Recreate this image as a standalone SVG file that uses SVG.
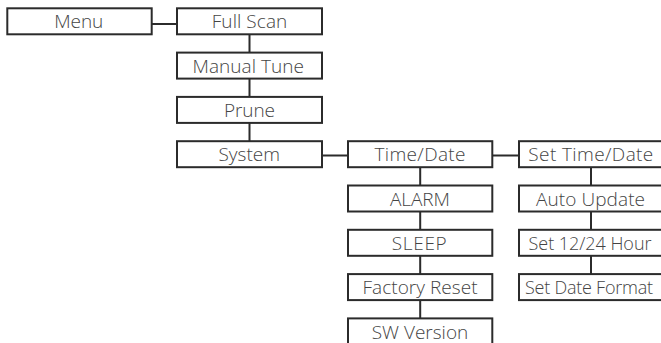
<svg xmlns="http://www.w3.org/2000/svg" width="661" height="343" viewBox="0 0 661 343">
<style>
.box{fill:#fff;stroke:#2b2b2b;stroke-width:2}
.lbl{font-family:"Open Sans",Lato,"Liberation Sans",sans-serif;font-weight:300;font-size:19px;fill:#444;text-anchor:middle}
.sm{font-size:18px}
.con{stroke:#2b2b2b;stroke-width:2;fill:none}
</style>
<rect width="661" height="343" fill="#fff"/>
<g id="connectors">
<path class="con" d="M151.7 24H177"/>
<path class="con" d="M249.5 34.3V52.6M249.5 78.6V96.9M249.5 122.9V141.2"/>
<path class="con" d="M322 155.5H348"/>
<path class="con" d="M492.3 155.5H519"/>
<path class="con" d="M420.2 167.2V185.5M420.2 211.5V229.8M420.2 255.8V274.1M420.2 300.1V318.4"/>
<path class="con" d="M591 167.2V185.5M591 211.5V229.8M591 255.8V274.1"/>
</g>
<g id="menu"><rect class="box" x="7.3" y="8.3" width="144.4" height="26"/><text class="lbl" x="78.8" y="28.4" textLength="49">Menu</text></g>
<g id="full-scan"><rect class="box" x="177" y="8.3" width="145" height="26"/><text class="lbl" x="249.5" y="28.4" textLength="75.5">Full Scan</text></g>
<g id="manual-tune"><rect class="box" x="177" y="52.6" width="145" height="26"/><text class="lbl" x="248.2" y="72.7" textLength="111.5">Manual Tune</text></g>
<g id="prune"><rect class="box" x="177" y="96.9" width="145" height="26"/><text class="lbl" x="249.5" y="117" textLength="51">Prune</text></g>
<g id="system"><rect class="box" x="177" y="141.2" width="145" height="26"/><text class="lbl" x="249.2" y="161.3" textLength="61.5">System</text></g>
<g id="time-date"><rect class="box" x="348" y="141.2" width="144.3" height="26"/><text class="lbl" x="420" y="161.3" textLength="91">Time/Date</text></g>
<g id="alarm"><rect class="box" x="348" y="185.5" width="144.3" height="26"/><text class="lbl" x="420" y="205.6" textLength="60">ALARM</text></g>
<g id="sleep"><rect class="box" x="348" y="229.8" width="144.3" height="26"/><text class="lbl" x="419.2" y="249.9" textLength="55">SLEEP</text></g>
<g id="factory-reset"><rect class="box" x="348" y="274.1" width="144.3" height="26"/><text class="lbl" x="420" y="294.2" textLength="115">Factory Reset</text></g>
<g id="sw-version"><rect class="box" x="348" y="318.4" width="144.3" height="26"/><text class="lbl" x="420" y="338.5" textLength="96.5">SW Version</text></g>
<g id="set-time-date"><rect class="box" x="519" y="141.2" width="144" height="26"/><text class="lbl" x="590.8" y="161.3" textLength="125">Set Time/Date</text></g>
<g id="auto-update"><rect class="box" x="519" y="185.5" width="144" height="26"/><text class="lbl" x="590.5" y="205.6" textLength="109">Auto Update</text></g>
<g id="set-12-24-hour"><rect class="box" x="519" y="229.8" width="144" height="26"/><text class="lbl sm" x="590" y="249.6" textLength="123">Set 12/24 Hour</text></g>
<g id="set-date-format"><rect class="box" x="519" y="274.1" width="144" height="26"/><text class="lbl sm" x="589" y="293.9" textLength="128">Set Date Format</text></g>
</svg>
